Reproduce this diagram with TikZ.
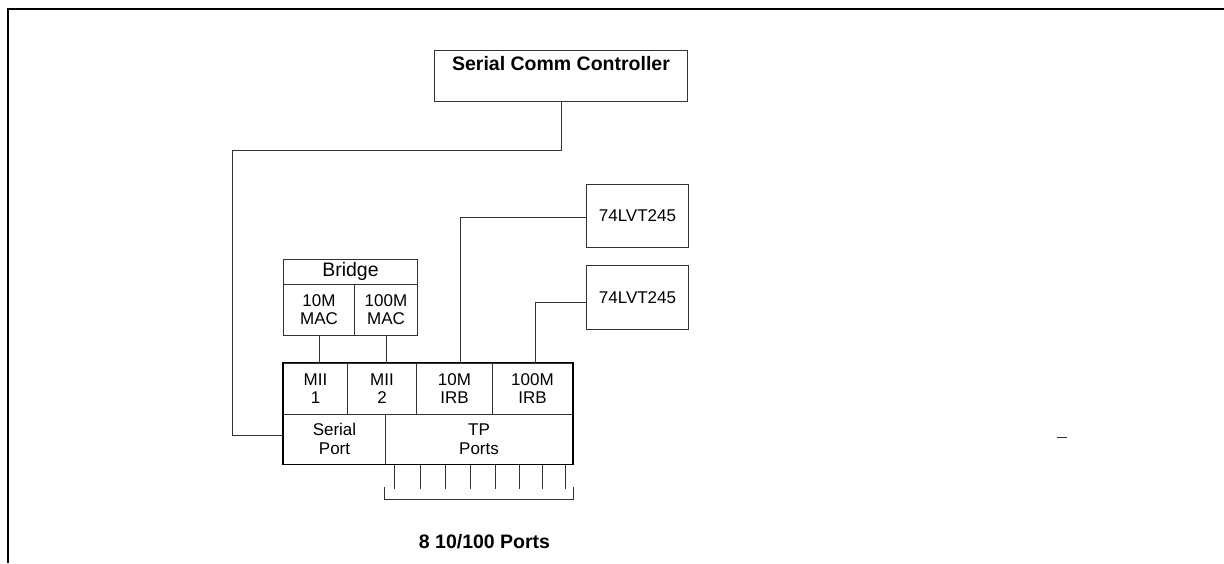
\documentclass[tikz,border=0pt]{standalone}
\usepackage{fontspec}
\setmainfont{Liberation Sans}
\begin{document}
\begin{tikzpicture}[x=1pt,y=-1pt,
  ln/.style={line width=1pt, draw=black!80},
  bx/.style={ln, rectangle, inner sep=0pt, align=center,
    font=\fontsize{17}{18.5}\selectfont},
  boldlbl/.style={font=\fontsize{19.5}{22}\selectfont\bfseries, inner sep=0pt}]
\useasboundingbox (0,0) rectangle (1224,563);
% frame
\draw[line width=2pt, black] (1224,9) -- (8,9) -- (8,563);
% Serial Comm Controller
\node[bx, minimum width=253, minimum height=50.5, anchor=north west] (scc) at (434,50) {};
\node[boldlbl] (scct) at (561,63.5) {Serial Comm Controller};
% Bridge
\node[bx, minimum width=134, minimum height=25, anchor=north west, font=\fontsize{19.5}{22}\selectfont] (br) at (283,258.5) {Bridge};
\node[bx, minimum width=71, minimum height=51, anchor=north west] (mac10) at (283,283.5) {10M\\MAC};
\node[bx, minimum width=63, minimum height=51, anchor=north west] (mac100) at (354,283.5) {100M\\MAC};
% main box
\node[bx, minimum width=64, minimum height=51, anchor=north west] (mii1) at (283,362.5) {MII\\1};
\node[bx, minimum width=69, minimum height=51, anchor=north west] (mii2) at (347,362.5) {MII\\2};
\node[bx, minimum width=76, minimum height=51, anchor=north west] (irb10) at (416,362.5) {10M\\IRB};
\node[bx, minimum width=80, minimum height=51, anchor=north west] (irb100) at (492,362.5) {100M\\IRB};
\node[bx, minimum width=102, minimum height=50, anchor=north west] (sp) at (283,413.5) {Serial\\Port};
\node[bx, minimum width=187, minimum height=50, anchor=north west] (tp) at (385,413.5) {TP\\Ports};
\draw[line width=1.3pt, black] (mii1.north west) rectangle (tp.south east);
% 74LVT245 boxes
\node[bx, minimum width=102.5, minimum height=62.5, anchor=north west] (lvt1) at (585.7,184) {74LVT245};
\node[bx, minimum width=102, minimum height=63.5, anchor=north west] (lvt2) at (586,265) {74LVT245};
% connectors
\draw[ln] (scc.south) -- (561,150.7) -| (232,435.7) -- (sp.west |- 0,435.7);
\draw[ln] (mac10.south) -- (mac10.south |- mii1.north);
\draw[ln] (mac100.south) -- (mac100.south |- mii2.north);
\draw[ln] (irb10.north -| 460.7,0) |- (lvt1.west |- 0,217.7);
\draw[ln] (irb100.north -| 535.7,0) |- (lvt2.west |- 0,302.3);
% port ticks
\foreach \i/\px in {1/394.3,2/420,3/445,4/470.3,5/495.7,6/519.3,7/542.5,8/565.7}{
  \coordinate (pt\i) at (\px,488.7);
  \draw[ln] (tp.south -| \px,0) -- (pt\i);
}
\coordinate (bl) at (384,486.7);
\coordinate (br2) at (573.3,486.7);
\draw[ln] (bl) -- (384,499) -- (573.3,499) -- (br2);
\node[boldlbl] (ports) at (484.5,541.7) {8 10/100 Ports};
% stray dash
\draw[line width=1.3pt, black!80] (1057,437.7) -- (1067,437.7);
\end{tikzpicture}
\end{document}
